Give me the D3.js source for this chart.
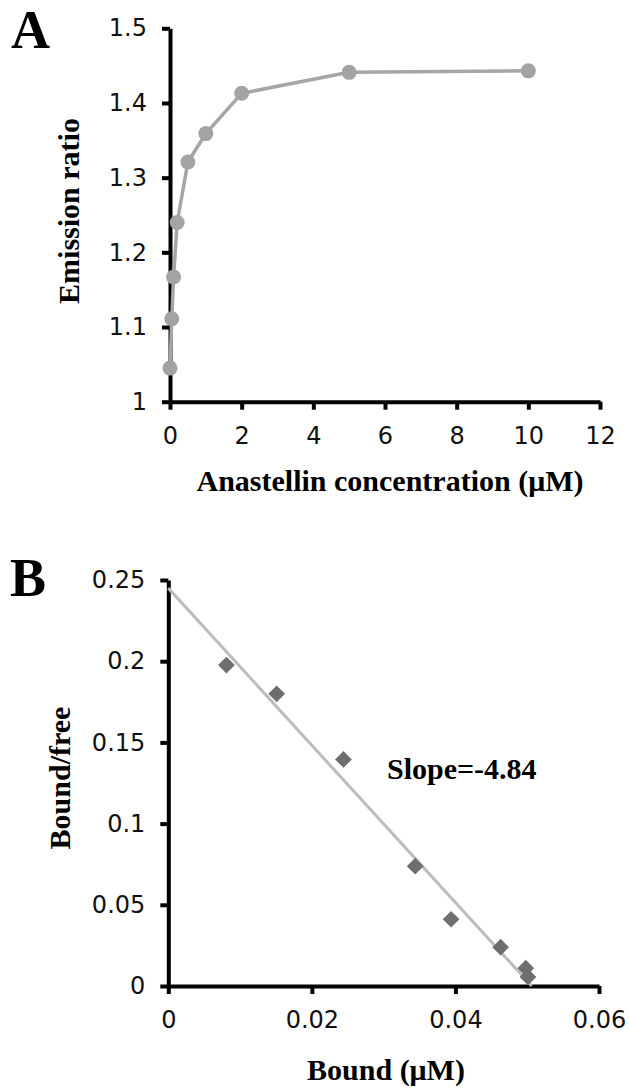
<!DOCTYPE html>
<html>
<head>
<meta charset="utf-8">
<script src="https://cdn.jsdelivr.net/npm/d3@7"></script>
<style>
  body { margin: 0; background: #fff; }
  .tick text { font-family: "DejaVu Sans", Verdana, sans-serif; font-size: 24px; fill: #111; }
  .title { font-family: "Liberation Serif", "Times New Roman", serif; font-weight: bold; font-size: 30px; fill: #000; }
  .panel { font-family: "Liberation Serif", "Times New Roman", serif; font-weight: bold; font-size: 54px; fill: #000; }
</style>
</head>
<body>
<div id="chart"></div>
<script>
// Panel A: titration
var concA = [0, 0.05, 0.1, 0.2, 0.5, 1, 2, 5, 10];
var ratioA = [1.045, 1.111, 1.167, 1.24, 1.321, 1.359, 1.413, 1.441, 1.443];
var xTicksA = [0, 2, 4, 6, 8, 10, 12];
var yTicksA = [1, 1.1, 1.2, 1.3, 1.4, 1.5];

// Panel B: Scatchard plot
var boundB = [0.0081, 0.0151, 0.0244, 0.0344, 0.0394, 0.0463, 0.0498, 0.0501];
var ratioB = [0.1976, 0.1799, 0.1395, 0.0738, 0.0411, 0.0239, 0.011, 0.0056];
var xTicksB = [0, 0.02, 0.04, 0.06];
var yTicksB = [0, 0.05, 0.1, 0.15, 0.2, 0.25];
var fitSlope = -4.84, fitIntercept = 0.245;

var width = 629, height = 1088;

var svg = d3.select("#chart").append("svg")
  .attr("width", width)
  .attr("height", height);

function drawAxes(g, x, y, xTicks, yTicks, xFmt, yFmt) {
  var xAxis = d3.axisBottom(x).tickValues(xTicks).tickFormat(xFmt)
    .tickSizeInner(8).tickSizeOuter(0).tickPadding(17);
  var yAxis = d3.axisLeft(y).tickValues(yTicks).tickFormat(yFmt)
    .tickSizeInner(8).tickSizeOuter(0).tickPadding(15);

  g.append("g")
    .attr("transform", `translate(0, ${y.range()[0]})`)
    .call(xAxis)
    .call(a => a.select(".domain").attr("stroke-width", 4).attr("stroke", "#000"))
    .call(a => a.selectAll(".tick line").attr("stroke-width", 4).attr("stroke", "#000"))
    .call(a => a.selectAll(".tick text").attr("dy", "0.71em"));

  g.append("g")
    .attr("transform", `translate(${x.range()[0]}, 0)`)
    .call(yAxis)
    .call(a => a.select(".domain").attr("stroke-width", 4).attr("stroke", "#000"))
    .call(a => a.selectAll(".tick line").attr("stroke-width", 4).attr("stroke", "#000"));
}

/* ---------- Panel A ---------- */
var gA = svg.append("g");

var xA = d3.scaleLinear().domain([0, 12]).range([170, 600]);
var yA = d3.scaleLinear().domain([1, 1.5]).range([401.7, 28.3]);

drawAxes(gA, xA, yA, xTicksA, yTicksA, d3.format("d"), d => d3.format("")(d));

var lineA = d3.line()
  .x((d, i) => xA(concA[i]))
  .y(d => yA(d));

gA.append("path")
  .datum(ratioA)
  .attr("d", lineA)
  .attr("fill", "none")
  .attr("stroke", "#a6a6a6")
  .attr("stroke-width", 3.5);

gA.selectAll(".dotA")
  .data(ratioA).enter()
  .append("circle")
  .attr("class", "dotA")
  .attr("cx", (d, i) => xA(concA[i]))
  .attr("cy", d => yA(d))
  .attr("r", 7.5)
  .attr("fill", "#a3a3a3");

gA.append("text")
  .attr("class", "title")
  .attr("x", 390)
  .attr("y", 491)
  .attr("text-anchor", "middle")
  .text("Anastellin concentration (\u03bcM)");

gA.append("text")
  .attr("class", "title")
  .attr("transform", "translate(79, 211) rotate(-90)")
  .attr("text-anchor", "middle")
  .text("Emission ratio");

gA.append("text")
  .attr("class", "panel")
  .attr("x", 11)
  .attr("y", 48)
  .text("A");

/* ---------- Panel B ---------- */
var gB = svg.append("g");

var xB = d3.scaleLinear().domain([0, 0.06]).range([168.3, 599]);
var yB = d3.scaleLinear().domain([0, 0.25]).range([986, 580]);

drawAxes(gB, xB, yB, xTicksB, yTicksB, d => d3.format("")(d), d => d3.format("")(d));

// linear fit, drawn from x = 0 to its x-intercept
var fitX = [0, -fitIntercept / fitSlope];
gB.append("path")
  .datum(fitX)
  .attr("d", d3.line().x(d => xB(d)).y(d => yB(fitIntercept + fitSlope * d)))
  .attr("fill", "none")
  .attr("stroke", "#bcbcbc")
  .attr("stroke-width", 3);

var diamond = d3.symbol().type(d3.symbolSquare).size(140);

gB.selectAll(".dotB")
  .data(ratioB).enter()
  .append("path")
  .attr("class", "dotB")
  .attr("d", diamond)
  .attr("transform", (d, i) => `translate(${xB(boundB[i])}, ${yB(d)}) rotate(45)`)
  .attr("fill", "#6e6e6e");

gB.append("text")
  .attr("class", "title")
  .attr("x", 387)
  .attr("y", 779)
  .text("Slope=-4.84");

gB.append("text")
  .attr("class", "title")
  .attr("x", 386)
  .attr("y", 1080)
  .attr("text-anchor", "middle")
  .text("Bound (\u03bcM)");

gB.append("text")
  .attr("class", "title")
  .attr("transform", "translate(70, 778) rotate(-90)")
  .attr("text-anchor", "middle")
  .text("Bound/free");

gB.append("text")
  .attr("class", "panel")
  .attr("x", 10)
  .attr("y", 596)
  .text("B");
</script>
</body>
</html>
